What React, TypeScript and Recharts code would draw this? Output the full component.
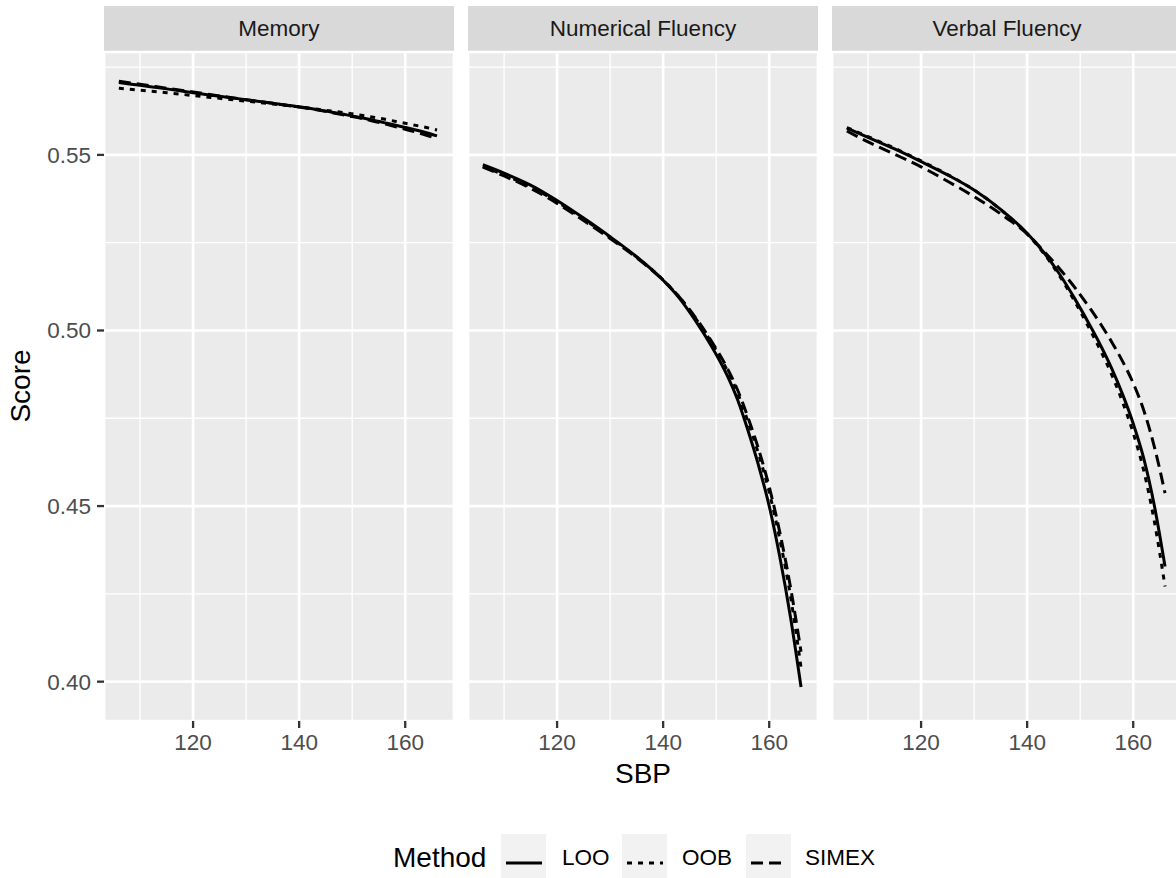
import { CartesianGrid, Line, LineChart, XAxis, YAxis } from "recharts";

const FONT = '"Liberation Sans", Arial, Helvetica, sans-serif';

// SBP grid shared by every facet
const sbp = [106, 110, 115, 120, 125, 130, 135, 140, 143, 146, 149, 152, 154, 156, 158, 160, 162, 164, 166];

const memoryLoo = [0.5706, 0.5698, 0.5688, 0.5677, 0.5667, 0.5657, 0.5647, 0.5637, 0.563, 0.5622, 0.5614, 0.5605, 0.5599, 0.5592, 0.5585, 0.5578, 0.5571, 0.5563, 0.5554];
const memoryOob = [0.569, 0.5684, 0.5677, 0.5669, 0.5661, 0.5653, 0.5645, 0.5637, 0.5631, 0.5625, 0.5619, 0.5612, 0.5607, 0.5602, 0.5596, 0.559, 0.5584, 0.5578, 0.5571];
const memorySimex = [0.571, 0.5701, 0.569, 0.5679, 0.5668, 0.5657, 0.5647, 0.5636, 0.5629, 0.5621, 0.5612, 0.5603, 0.5596, 0.5589, 0.5581, 0.5573, 0.5565, 0.5556, 0.5546];

const numericalLoo = [0.5472, 0.5448, 0.5414, 0.537, 0.532, 0.5267, 0.521, 0.5143, 0.5093, 0.503, 0.4958, 0.4874, 0.4804, 0.4715, 0.4615, 0.45, 0.4355, 0.4185, 0.3985];
const numericalOob = [0.5467, 0.5443, 0.5409, 0.5366, 0.5317, 0.5265, 0.5209, 0.5144, 0.5096, 0.5037, 0.4968, 0.4889, 0.4824, 0.474, 0.4648, 0.454, 0.4405, 0.4245, 0.404];
const numericalSimex = [0.5465, 0.544, 0.5405, 0.5362, 0.5313, 0.5262, 0.5207, 0.5143, 0.5096, 0.5039, 0.4972, 0.4895, 0.4832, 0.4752, 0.4662, 0.4555, 0.4425, 0.427, 0.4085];

const verbalLoo = [0.5576, 0.555, 0.5517, 0.5481, 0.5443, 0.54, 0.5345, 0.5277, 0.5225, 0.5163, 0.509, 0.501, 0.4953, 0.489, 0.4818, 0.4735, 0.4635, 0.45, 0.4328];
const verbalOob = [0.5578, 0.5552, 0.5519, 0.5483, 0.5444, 0.54, 0.5344, 0.5275, 0.5222, 0.5158, 0.5082, 0.4998, 0.4938, 0.4872, 0.4796, 0.4708, 0.46, 0.4455, 0.4271];
const verbalSimex = [0.5568, 0.5537, 0.5502, 0.5466, 0.5425, 0.5381, 0.5332, 0.5275, 0.5228, 0.5178, 0.5122, 0.506, 0.5015, 0.4966, 0.4912, 0.485, 0.4772, 0.4668, 0.4537];

const facets = [
  { name: "Memory", loo: memoryLoo, oob: memoryOob, simex: memorySimex },
  { name: "Numerical Fluency", loo: numericalLoo, oob: numericalOob, simex: numericalSimex },
  { name: "Verbal Fluency", loo: verbalLoo, oob: verbalOob, simex: verbalSimex },
];

const methods = [
  { key: "LOO", dash: undefined },
  { key: "OOB", dash: "5 6" },
  { key: "SIMEX", dash: "12 6" },
];

const xMajor = [120, 140, 160];
const xMinor = [110, 130, 150];
const yMajor = [0.4, 0.45, 0.5, 0.55];
const yMinor = [0.425, 0.475, 0.525, 0.575];
const xDomain = [103.2, 169.2];
const yDomain = [0.3888, 0.5793];

const PANEL_W = 350;
const PANEL_TOP = 52;
const PANEL_H = 669;
const Y_AXIS_W = 104;
const panelLefts = [104, 468, 832];

type Facet = (typeof facets)[number];

function Panel({ facet, left, showY }: { facet: Facet; left: number; showY: boolean }) {
  const rows = sbp.map((x, i) => ({ x, LOO: facet.loo[i], OOB: facet.oob[i], SIMEX: facet.simex[i] }));
  const yw = showY ? Y_AXIS_W : 0;

  return (
    <div style={{ position: "absolute", left: left - yw, top: 0 }}>
      <div
        style={{
          position: "absolute",
          left: yw,
          top: 6,
          width: PANEL_W,
          height: 46,
          background: "#D9D9D9",
          color: "#1A1A1A",
          fontSize: 22.5,
          lineHeight: "46px",
          textAlign: "center",
        }}
      >
        {facet.name}
      </div>
      <LineChart
        width={yw + PANEL_W}
        height={PANEL_TOP + PANEL_H + 46}
        data={rows}
        margin={{ top: PANEL_TOP, right: 0, bottom: 0, left: 0 }}
        style={{ fontFamily: FONT }}
      >
        <CartesianGrid fill="#EBEBEB" stroke="#FFFFFF" strokeWidth={2.7} />
        <CartesianGrid xAxisId="minor" yAxisId="minor" stroke="#FFFFFF" strokeWidth={1.35} />
        <XAxis
          dataKey="x"
          type="number"
          domain={xDomain}
          allowDataOverflow
          ticks={xMajor}
          interval={0}
          height={46}
          tickSize={7}
          tickMargin={6}
          axisLine={false}
          tickLine={{ stroke: "#333333", strokeWidth: 2.3 }}
          tick={{ fill: "#4D4D4D", fontSize: 22.5 }}
        />
        <XAxis xAxisId="minor" dataKey="x" type="number" domain={xDomain} allowDataOverflow ticks={xMinor} hide />
        <YAxis
          type="number"
          domain={yDomain}
          allowDataOverflow
          ticks={yMajor}
          interval={0}
          hide={!showY}
          width={Y_AXIS_W}
          tickSize={7}
          tickMargin={6}
          axisLine={false}
          tickLine={{ stroke: "#333333", strokeWidth: 2.3 }}
          tick={{ fill: "#4D4D4D", fontSize: 22.5 }}
          tickFormatter={(v: number) => v.toFixed(2)}
        />
        <YAxis yAxisId="minor" type="number" domain={yDomain} allowDataOverflow ticks={yMinor} hide />
        {methods.map((m) => (
          <Line
            key={m.key}
            dataKey={m.key}
            type="monotone"
            stroke="#000000"
            strokeWidth={3}
            strokeDasharray={m.dash}
            dot={false}
            activeDot={false}
            isAnimationActive={false}
          />
        ))}
      </LineChart>
    </div>
  );
}

const legendKeys = [
  { label: "LOO", dash: undefined, boxX: 501, textX: 562 },
  { label: "OOB", dash: "5 6", boxX: 622, textX: 682 },
  { label: "SIMEX", dash: "12 6", boxX: 746, textX: 805 },
];

export default function App() {
  return (
    <div
      style={{
        position: "absolute",
        left: 0,
        top: 0,
        width: 1176,
        height: 878,
        overflow: "hidden",
        background: "#FFFFFF",
        fontFamily: FONT,
      }}
    >
      {facets.map((f, i) => (
        <Panel key={f.name} facet={f} left={panelLefts[i]} showY={i === 0} />
      ))}

      <div
        style={{
          position: "absolute",
          left: 21,
          top: 386,
          transform: "translate(-50%, -50%) rotate(-90deg)",
          fontSize: 28,
          color: "#000",
          whiteSpace: "nowrap",
        }}
      >
        Score
      </div>
      <div
        style={{
          position: "absolute",
          left: 643,
          top: 774,
          transform: "translate(-50%, -50%)",
          fontSize: 28,
          lineHeight: "22px",
          color: "#000",
        }}
      >
        SBP
      </div>

      <div style={{ position: "absolute", left: 393, top: 858, transform: "translateY(-50%)", fontSize: 28 }}>
        Method
      </div>
      {legendKeys.map((k) => (
        <div key={k.label}>
          <svg
            width={45}
            height={58}
            style={{ position: "absolute", left: k.boxX, top: 834, background: "#F2F2F2" }}
          >
            <line x1={5} x2={41} y1={29} y2={29} stroke="#000" strokeWidth={3} strokeDasharray={k.dash} />
          </svg>
          <div
            style={{
              position: "absolute",
              left: k.textX,
              top: 858,
              transform: "translateY(-50%)",
              fontSize: 22.5,
              color: "#000",
            }}
          >
            {k.label}
          </div>
        </div>
      ))}
    </div>
  );
}
